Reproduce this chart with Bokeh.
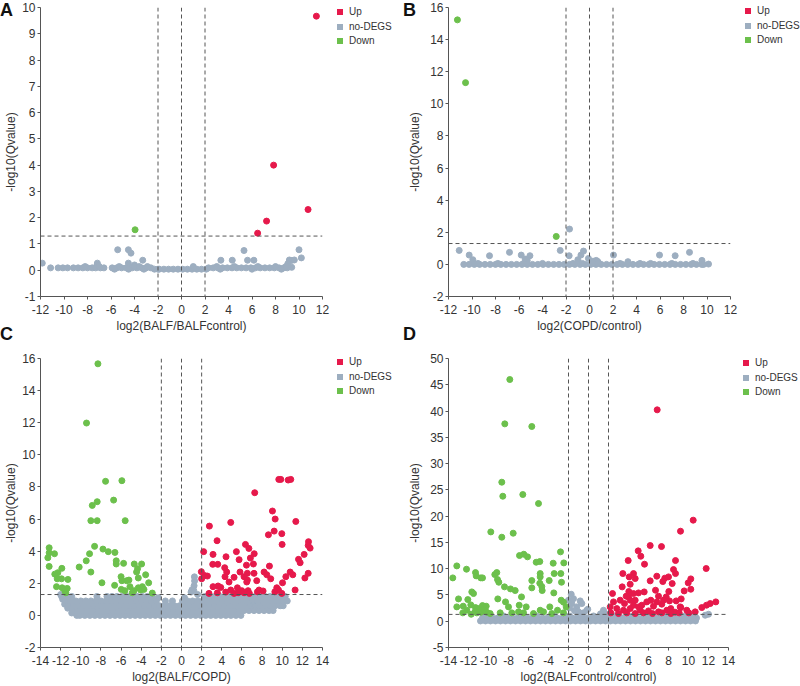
from bokeh.plotting import figure
from bokeh.models import Span, FixedTicker, Range1d, Div
from bokeh.layouts import column, row
from bokeh.embed import file_html
from bokeh.resources import INLINE

UP = "#E6194B"
GREY = "#9DAEC0"
GREEN = "#6CC04C"
FONT = "Liberation Sans"

# ---------------- Panel A : log2(BALF/BALFcontrol) ----------------
a_up_x = [11.48, 7.84, 10.77, 7.24, 6.48]
a_up_y = [9.67, 4.00, 2.31, 1.87, 1.41]
a_down_x = [-3.95]
a_down_y = [1.54]
a_grey_rows = [
    (0.09, [-10.5, -10.1, -9.7, -9.2, -8.8, -8.4, -8.0, -7.6, -7.3, -6.9, -6.6, -5.9, -5.5, -5.1, -4.7,
            -4.2, -3.8, -3.4, -3.0, -2.6, 2.3, 2.7, 3.1, 3.5, 3.9, 4.3, 4.7, 5.1, 5.5, 5.9, 6.3, 6.7,
            7.1, 7.5, 7.9, 8.3, 8.7, 9.0]),
    (0.04, [-2.3, -1.9, -1.5, -1.1, -0.7, -0.3, 0.1, 0.5, 0.9, 1.3, 1.7, 2.1, -5.7, -4.5, -3.2, -2.0,
            3.3, 6.0, 8.5]),
    (0.14, [-8.2, -7.0, -5.3, -4.0, -3.6, -2.9, 1.0, 3.0, 4.5, 6.5, 8.0, 8.9]),
]
a_grey_x = [-11.85, -11.14, -7.16, -5.43, -4.52, -4.30, -4.52, -3.30, 3.35, 4.32, 5.32, 5.62, 6.16,
            9.18, 9.35, 9.60, 10.0, 10.2, 9.38, 9.05, -4.0, -7.2]
a_grey_y = [0.27, 0.09, 0.27, 0.78, 0.78, 0.65, 0.27, 0.38, 0.38, 0.38, 0.75, 0.38, 0.38,
            0.39, 0.37, 0.39, 0.78, 0.47, 0.11, 0.25, 0.20, 0.18]

# ---------------- Panel B : log2(COPD/control) ----------------
b_up_x = []
b_up_y = []
b_down_x = [-11.24, -10.55, -2.83]
b_down_y = [15.23, 11.32, 1.74]
b_grey_rows = [
    (0.0, [-10.7, -10.25, -9.8, -9.35, -8.9, -8.45, -8.0, -7.55, -7.1, -6.65, -6.2, -5.75, -5.3, -4.85,
           -4.4, -3.95, -3.5, -3.05, -2.6, -2.15, -1.7, -1.25, -0.8, -0.35, 0.1, 0.55, 1.0, 1.45, 1.9,
           2.35, 2.8, 3.25, 3.7, 4.15, 4.6, 5.05, 5.5, 5.95, 6.4, 6.85, 7.3, 7.75, 8.2, 8.65, 9.1,
           9.55, 9.71]),
    (0.06, [-9.5, -7.8, -5.6, -4.0, -1.4, -0.6, 0.3, 0.8, 2.6, 4.3, 5.2, 7.0, 8.8]),
]
b_grey_x = [-11.09, -10.24, -9.93, -8.51, -6.81, -5.81, -5.47, -5.07, -5.3, -2.49, -1.73, -1.70, -0.73,
            -0.51, -0.99, -0.09, 0.57, 2.04, 3.27, 5.96, 7.29, 8.51, 9.57, 10.13, 0.3, 0.7]
b_grey_y = [0.87, 0.58, 0.29, 0.54, 0.75, 0.58, 0.33, 0.54, 0.25, 0.87, 0.54, 2.20, 0.58,
            0.83, 0.29, 0.37, 0.25, 0.58, 0.17, 0.58, 0.54, 0.75, 0.25, 0.02, 0.20, 0.18]

# ---------------- Panel C : log2(BALF/COPD) ----------------
c_down_x = [-8.30, -9.43, -7.54, -5.92, -6.74, -8.37, -8.86, -9.00, -8.37, -5.59, -13.14, -12.61, -13.14,
            -13.27, -13.14, -8.63, -7.80, -7.27, -6.61, -9.13, -9.46, -6.48, -6.48, -5.75, -4.69, -3.96,
            -4.36, -4.46, -10.16, -11.88, -12.28, -12.58, -9.00, -6.00, -3.56, -4.29, -5.92, -5.22, -5.45,
            -11.28, -11.91, -7.90, -6.64, -5.98, -5.12, -4.29, -3.89, -4.72, -4.06, -3.73, -5.62, -3.26,
            -2.90, -12.41, -11.85, -11.35, -11.58, -11.48, -12.34, -4.89]
c_down_y = [15.67, 11.98, 8.35, 8.39, 7.18, 7.08, 6.85, 5.90, 5.90, 5.90, 4.21, 3.84, 3.90,
            3.59, 3.05, 4.30, 4.13, 3.97, 3.92, 3.84, 3.40, 3.40, 3.20, 3.24, 3.20, 3.20,
            2.91, 2.70, 3.01, 2.93, 2.66, 2.57, 2.70, 2.41, 2.53, 2.33, 2.16, 2.20, 2.16,
            2.24, 2.28, 2.03, 1.87, 1.62, 1.79, 1.72, 1.79, 1.54, 1.58, 1.62, 1.54, 2.03,
            1.39, 1.79, 1.72, 1.68, 1.52, 1.41, 2.28, 1.41]
c_up_x = [9.66, 9.86, 10.59, 10.85, 7.27, 9.03, 9.30, 11.35, 4.89, 2.77, 9.20, 9.96, 8.63, 9.99, 12.61,
          12.77, 12.58, 3.53, 6.35, 2.20, 5.45, 6.69, 7.22, 3.13, 4.42, 12.18, 11.62, 11.78, 3.10, 3.60,
          4.29, 5.72, 6.45, 6.84, 7.14, 8.73, 1.97, 4.49, 5.81, 6.54, 8.20, 7.20, 8.47, 10.79, 11.05,
          12.58, 10.36, 2.27, 2.57, 2.00, 4.32, 5.22, 6.21, 6.54, 7.47, 8.86, 12.25, 4.72, 6.48, 10.03,
          3.13, 3.63, 3.90, 5.55, 6.61, 7.70, 8.10, 9.46, 9.63, 4.89, 5.98, 4.39, 5.22, 5.62, 6.74,
          2.73, 11.28, 9.27, 9.96, 6.21, 7.54, 3.56]
c_up_y = [8.47, 8.47, 8.43, 8.47, 7.64, 6.50, 6.00, 5.85, 5.79, 5.56, 5.25, 5.09, 5.02, 4.42, 4.59,
          4.19, 4.36, 4.65, 4.42, 3.97, 3.97, 4.17, 3.84, 3.80, 3.65, 3.80, 3.49, 3.28, 3.18, 3.18,
          2.97, 3.47, 3.13, 3.57, 3.20, 3.07, 2.72, 2.70, 2.70, 2.62, 2.70, 2.62, 2.53, 2.70, 2.53,
          2.62, 2.41, 2.49, 2.45, 2.28, 2.41, 2.37, 2.41, 2.20, 2.16, 2.28, 2.33, 2.08, 2.08, 2.03,
          1.79, 1.83, 1.74, 1.72, 1.54, 1.58, 1.52, 1.72, 1.58, 1.58, 1.54, 1.45, 1.37, 1.41, 1.37,
          1.37, 1.58, 1.47, 1.37, 1.41, 1.47, 1.41]
c_grey_rows = [
    (0.0, [-10.1, -9.6, -9.1, -8.6, -8.1, -7.6, -7.1, -6.6, -6.1, -5.6, -5.1, -4.6, -4.1, -3.6, -3.1,
           -2.6, -2.1, -1.6, -1.1, -0.6, -0.1, 0.4, 0.9, 1.4, 1.9, 2.4, 2.9, 3.4, 3.9, 4.4, 4.9, 5.4,
           5.9]),
    (0.3, [-10.8, -10.3, -9.8, -9.3, -8.8, -8.3, -7.8, -7.3, -6.8, -6.3, -5.8, -5.3, -4.8, -4.3, -3.8,
           -3.3, -2.8, -2.3, -1.8, -1.3, -0.8, -0.3, 0.2, 0.7, 1.2, 1.7, 2.2, 2.7, 3.2, 3.7, 4.2, 4.7,
           5.2, 5.7, 6.2, 6.7, 7.2, 7.7, 8.2, 8.7, 9.1]),
    (0.6, [-11.2, -10.7, -10.2, -9.7, -9.2, -8.7, -8.2, -7.7, -7.2, -6.7, -6.2, -5.7, -5.2, -4.7, -4.2,
           -3.7, -3.2, -2.7, -2.2, -1.7, -1.2, -0.7, -0.2, 0.3, 0.8, 1.3, 1.8, 2.3, 2.8, 3.3, 3.8, 4.3,
           4.8, 5.3, 5.8, 6.3, 6.8, 7.3, 7.8, 8.3, 8.8, 9.3, 9.8, 10.1]),
    (0.9, [-11.5, -11.0, -10.5, -10.0, -9.5, -9.0, -8.5, -8.0, -7.5, -7.0, -6.5, -6.0, -5.5, -5.0, -4.5,
           -4.0, -3.5, -3.0, -2.5, -1.6, -0.9, 0.1, 0.6, 1.1, 1.6, 2.1, 2.6, 3.1, 3.6, 4.1, 4.6, 5.1,
           5.6, 6.1, 6.6, 7.1, 7.6, 8.1, 8.6, 9.1, 9.6, 10.1, 10.5]),
    (1.18, [-11.9, -11.4, -10.9, -8.4, -7.4, -6.9, -6.4, -5.9, -5.4, -4.9, -4.4, -3.9, -3.4, -2.9, 2.3,
            2.8, 3.3, 3.8, 4.3, 4.8, 5.3, 5.8, 6.3, 6.8, 7.3, 7.8, 8.3, 8.8, 9.3, 9.8, 10.3]),
]
c_grey_x = [1.22, 1.25, 1.30, 1.28, 0.95, 1.05, -12.0, -11.8, -11.6, -11.3, -10.9, -10.4, -2.3, 0.3, 1.6]
c_grey_y = [1.55, 1.85, 2.15, 2.40, 1.45, 1.60, 1.30, 1.00, 0.70, 0.45, 0.15, 0.00, 1.10, 1.10, 1.30]

# ---------------- Panel D : log2(BALFcontrol/control) ----------------
d_down_x = [-7.87, -8.37, -5.67, -8.67, -8.57, -6.57, -5.00, -9.77, -8.67, -7.53, -6.90, -6.47, -6.10,
            -5.23, -4.87, -3.53, -2.80, -2.47, -13.17, -12.20, -13.57, -11.30, -11.23, -10.77, -10.60,
            -9.37, -9.17, -9.10, -8.97, -8.40, -7.80, -7.33, -6.70, -5.67, -5.67, -4.83, -4.83, -4.67,
            -4.63, -4.87, -3.93, -3.43, -2.77, -2.70, -3.47, -13.00, -13.17, -12.53, -12.07, -11.67,
            -11.50, -9.07, -8.30, -10.60, -10.23, -11.30, -12.17, -2.73, -2.50, -2.23, -3.87, -3.10,
            -6.93, -6.23, -4.83, -4.50, -7.00, -8.00, -10.17, -11.17, -10.77, -9.83, -5.50, -3.67,
            -2.50, -7.67, -8.83, -6.50, -12.57, -11.73, -11.77, -11.00, -10.50, -11.33]
d_down_y = [46.0, 37.56, 37.06, 26.46, 23.79, 24.11, 22.40, 17.00, 15.99, 16.75, 12.50, 12.75, 12.25,
            11.23, 11.36, 11.04, 13.20, 11.10, 10.53, 9.90, 8.25, 9.26, 8.63, 8.25, 8.25,
            8.88, 9.26, 7.93, 7.42, 6.54, 6.15, 5.84, 4.63, 7.74, 6.35, 9.07, 8.44, 6.60,
            5.84, 7.23, 7.74, 9.07, 9.07, 7.42, 5.39, 4.25, 2.73, 2.86, 4.12, 5.58,
            5.27, 4.25, 3.68, 2.98, 2.86, 2.60, 2.09, 4.00, 3.62, 2.73, 2.73, 2.09,
            3.05, 2.73, 2.09, 1.78, 1.78, 2.73, 1.71, 1.59, 1.71, 1.46, 1.46, 1.46,
            1.59, 1.59, 1.59, 1.59, 1.59, 1.33, 3.11, 2.41, 2.22, 1.84]
d_up_x = [6.87, 10.47, 9.20, 6.17, 7.30, 4.97, 5.23, 3.97, 8.70, 5.60, 11.77, 3.43, 4.50, 8.50, 8.70,
          4.07, 4.67, 6.83, 7.63, 8.00, 10.23, 9.97, 6.17, 7.43, 4.17, 8.37, 3.37, 6.70, 8.03, 5.57,
          9.57, 10.23, 4.03, 2.40, 5.00, 4.00, 7.00, 7.77, 9.27, 3.17, 4.67, 5.83, 6.83, 8.10, 8.77,
          11.80, 12.17, 12.73, 11.33, 10.67, 2.50, 4.50, 6.50, 7.33, 8.23, 9.23, 2.17, 2.83, 3.50,
          4.17, 5.17, 6.00, 7.00, 7.83, 8.67, 2.23, 3.00, 3.83, 4.67, 5.50, 6.40, 7.33, 8.23, 9.07,
          10.03, 5.00, 3.60, 4.17, 5.33, 6.23, 7.50, 3.77, 4.50, 9.17, 9.83]
d_up_y = [40.23, 19.23, 17.13, 14.40, 14.21, 13.39, 12.37, 11.55, 11.55, 10.85, 10.03, 9.07, 9.07, 9.83,
          9.07, 8.44, 8.12, 8.57, 8.19, 8.44, 8.06, 7.30, 7.68, 7.55, 7.04, 7.17, 6.54, 5.90, 5.65,
          5.58, 5.77, 6.09, 5.65, 5.27, 5.39, 4.63, 4.76, 4.63, 4.25, 4.00, 4.00, 3.68, 3.68, 3.87,
          3.87, 3.05, 3.36, 3.68, 2.60, 1.78, 3.68, 3.05, 2.86, 3.24, 2.41, 2.60, 2.73, 2.41, 2.09,
          2.41, 2.09, 1.97, 1.78, 2.09, 1.71, 1.59, 1.46, 1.59, 1.46, 1.59, 1.46, 1.59, 1.46, 1.59,
          1.59, 2.73, 3.36, 4.00, 3.05, 4.00, 4.00, 4.76, 5.27, 2.73, 2.09]
d_grey_rows = [
    (0.05, [-10.8, -10.3, -9.8, -9.3, -8.8, -8.3, -7.8, -7.3, -6.8, -6.3, -5.8, -5.3, -4.8, -4.3, -3.8,
            -3.3, -2.8, -2.3, -1.8, -1.3, -0.8, -0.3, 0.2, 0.7, 1.2, 1.7, 2.2, 2.7, 3.2, 3.7, 4.2, 4.7,
            5.2, 5.7, 6.2, 6.7, 7.2, 7.7, 8.2, 8.7, 9.2, 9.7, 10.2, 10.7]),
    (0.6, [-10.6, -10.1, -9.6, -9.1, -8.6, -8.1, -7.6, -7.1, -6.6, -6.1, -5.6, -5.1, -4.6, -4.1, -3.6,
           -3.1, -2.6, -2.1, -1.6, -1.1, -0.6, -0.1, 0.4, 0.9, 1.4, 1.9, 2.4, 2.9, 3.4, 3.9, 4.4, 4.9,
           5.4, 5.9, 6.4, 6.9, 7.4, 7.9, 8.4, 8.9, 9.4, 9.9, 10.4, 10.8]),
    (1.0, [-10.2, -8.5, -6.8, -5.2, -3.4, -2.4, -1.9, -1.0, 0.5, 1.1, 2.6, 4.4, 6.1, 7.9, 9.6, 10.5]),
]
d_grey_x = [-1.73, -2.0, -1.67, -1.17, -0.83, -0.67, -0.17, -0.07, -1.4, -0.5, 1.5, 1.67, 1.2, 11.67, 12.0,
            -1.9, -1.5, -1.0]
d_grey_y = [5.14, 4.0, 3.36, 2.73, 3.87, 3.36, 2.09, 2.28, 2.0, 1.6, 2.09, 1.46, 1.4, 1.14, 1.33,
            2.5, 4.3, 1.8]

Q_THRESHOLD = 1.3
FC_LINES = [-2, 0, 2]
LEGEND_LABELS = ["Up", "no-DEGS", "Down"]
LEGEND_COLORS = [UP, GREY, GREEN]
PANEL_LETTERS = ["A", "B", "C", "D"]


def expand(rows, xs, ys):
    gx, gy = list(xs), list(ys)
    for yv, xl in rows:
        gx += xl
        gy += [yv] * len(xl)
    return gx, gy


def tick_text(ticks):
    return {t: str(t) for t in ticks}


def style_axes(p, xticks, yticks, ylab_standoff):
    p.xaxis.ticker = FixedTicker(ticks=xticks)
    p.yaxis.ticker = FixedTicker(ticks=yticks)
    p.xaxis.major_label_overrides = tick_text(xticks)
    p.yaxis.major_label_overrides = tick_text(yticks)
    for ax in (p.xaxis[0], p.yaxis[0]):
        ax.major_label_text_font = FONT
        ax.major_label_text_font_size = "12px"
        ax.major_label_text_color = "#333333"
        ax.axis_label_text_font = FONT
        ax.axis_label_text_font_size = "12px"
        ax.axis_label_text_font_style = "normal"
        ax.axis_label_text_color = "#333333"
        ax.axis_line_color = "#555555"
        ax.major_tick_line_color = "#555555"
        ax.major_tick_in = 0
        ax.major_tick_out = 3
        ax.minor_tick_line_color = None
    p.xaxis.major_label_standoff = 5
    p.xaxis.axis_label_standoff = 2
    p.yaxis.major_label_standoff = 2
    p.yaxis.axis_label_standoff = ylab_standoff


def panel(xr, yr, xticks, yticks, xlabel, grey, down, up, borders, ylab_standoff):
    left, right, top, bottom = borders
    p = figure(width=400, height=343, x_range=Range1d(*xr), y_range=Range1d(*yr),
               output_backend="svg", toolbar_location=None,
               min_border_left=left, min_border_right=right,
               min_border_top=top, min_border_bottom=bottom,
               x_axis_label=xlabel, y_axis_label="-log10(Qvalue)")
    p.outline_line_color = None
    p.grid.visible = False
    style_axes(p, xticks, yticks, ylab_standoff)

    p.scatter(grey[0], grey[1], size=6, color=GREY)
    p.scatter(down[0], down[1], size=6, color=GREEN)
    p.scatter(up[0], up[1], size=6, color=UP)

    for xv in FC_LINES:
        p.add_layout(Span(location=xv, dimension="height", line_color="#555555",
                          line_width=1, line_dash="4 3"))
    p.add_layout(Span(location=Q_THRESHOLD, dimension="width", line_color="#555555",
                      line_width=1, line_dash="4 3"))
    return p


def legend_div(left, top, text_dx):
    width = 800 - left
    parts = []
    for i, (lab, col) in enumerate(zip(LEGEND_LABELS, LEGEND_COLORS)):
        cy = 7 + i * 14.5
        parts.append(f'<span style="position:absolute;left:0px;top:{cy - 3}px;width:6px;height:6px;'
                     f'background:{col};"></span>')
        parts.append(f'<span style="position:absolute;left:{text_dx}px;top:{cy - 7}px;line-height:14px;'
                     f'white-space:nowrap;">{lab}</span>')
    return Div(text="".join(parts), width=width, height=46,
               styles={"position": "absolute", "left": f"{left}px", "top": f"{top}px",
                       "font-family": FONT, "font-size": "10px", "color": "#333333",
                       "overflow": "hidden", "margin": "0px", "width": f"{width}px",
                       "height": "46px"})


ga = expand(a_grey_rows, a_grey_x, a_grey_y)
gb = expand(b_grey_rows, b_grey_x, b_grey_y)
gc = expand(c_grey_rows, c_grey_x, c_grey_y)
gd = expand(d_grey_rows, d_grey_x, d_grey_y)

pA = panel((-12, 12), (-1, 10), list(range(-12, 13, 2)), list(range(-1, 11)),
           "log2(BALF/BALFcontrol)", ga, (a_down_x, a_down_y), (a_up_x, a_up_y),
           (40, 78, 7, 47), 1)
pB = panel((-12, 12), (-2, 16), list(range(-12, 13, 2)), list(range(-2, 17, 2)),
           "log2(COPD/control)", gb, (b_down_x, b_down_y), (b_up_x, b_up_y),
           (48, 70, 6, 47), 5)
pC = panel((-14, 14), (-2, 16), list(range(-14, 15, 2)), list(range(-2, 17, 2)),
           "log2(BALF/COPD)", gc, (c_down_x, c_down_y), (c_up_x, c_up_y),
           (40, 78, 15, 39), 1)
pD = panel((-14, 14), (-5, 50), list(range(-14, 15, 2)), list(range(-5, 51, 5)),
           "log2(BALFcontrol/control)", gd, (d_down_x, d_down_y), (d_up_x, d_up_y),
           (48, 72, 15, 39), 5)

letter_pos = [(0, 0), (403, 0), (0, 324), (403, 324)]
letter_divs = [
    Div(text=t, width=16, height=20,
        styles={"position": "absolute", "left": f"{lx}px", "top": f"{ly}px",
                "font-family": FONT, "font-size": "18px", "font-weight": "bold",
                "color": "#111111", "line-height": "20px", "margin": "0px"})
    for t, (lx, ly) in zip(PANEL_LETTERS, letter_pos)
]
legend_divs = [
    legend_div(337, 5, 12),
    legend_div(745, 4, 12),
    legend_div(337, 355, 12),
    legend_div(743, 356, 12),
]

layout = column(row(pA, pB), row(pC, pD), *letter_divs, *legend_divs)
open("out.html", "w").write(file_html(layout, INLINE))
